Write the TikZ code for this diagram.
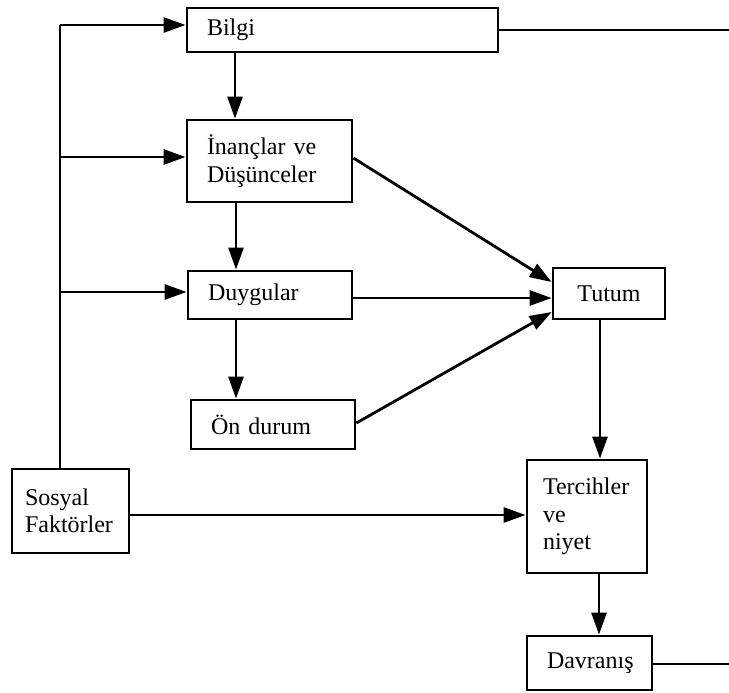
\documentclass[tikz,border=0pt]{standalone}
\usepackage{fontspec}
\setmainfont{Liberation Serif}
\usetikzlibrary{arrows.meta, positioning}

\begin{document}
\begin{tikzpicture}[
    x=1pt, y=-1pt,
    box/.style={draw, line width=2.8pt, inner xsep=20pt, inner ysep=0pt, align=left,
                font=\fontsize{24}{27.5}\selectfont},
    arrow/.style={-{Triangle[length=22pt, width=15pt]}, line width=2.8pt},
    line/.style={line width=2.8pt}
  ]
  \useasboundingbox (0,0) rectangle (729,693);

  \node[box, text width=271pt, minimum height=44pt] (bilgi) at (342.5,30) {Bilgi};
  \node[box, text width=125pt, minimum height=82pt] (inanc) at (269.5,161) {İnançlar ve\\Düşünceler};
  \node[box, text width=124pt, minimum height=48pt] (duygu) at (270,295) {Duygular};
  \node[box, text width=124pt, minimum height=49pt] (ondurum) at (273,424.5) {Ön durum};
  \node[box, align=center, text width=72pt, minimum height=51pt] (tutum) at (609,293.5) {Tutum};
  \node[box, inner xsep=13pt, text width=91pt, minimum height=84pt] (sosyal) at (70.5,511) {Sosyal\\Faktörler};
  \node[box, inner xsep=16pt, text width=88pt, minimum height=113pt] (tercih) at (587,516.5) {Tercihler\\ve\\niyet};
  \node[box, align=center, text width=85pt, minimum height=54pt] (davranis) at (589.5,663) {Davranış};

  \coordinate (trunk) at (60,25);
  \coordinate (outtop) at (729,30);
  \coordinate (outbot) at (729,664);

  % sosyal faktorler branch
  \draw[line] (sosyal.north -| trunk) -- (trunk);
  \draw[arrow] (trunk) -- (bilgi.west |- trunk);
  \draw[arrow] (trunk |- 0,157) -- (inanc.west |- 0,157);
  \draw[arrow] (trunk |- 0,292) -- (duygu.west |- 0,292);
  \draw[arrow] (sosyal.east |- 0,515) -- (tercih.west |- 0,515);

  \draw[arrow] (bilgi.south -| 235,0) -- (inanc.north -| 235,0);
  \draw[arrow] (inanc.south -| 236,0) -- (duygu.north -| 236,0);
  \draw[arrow] (duygu.south -| 236,0) -- (ondurum.north -| 236,0);

  \draw[arrow] (inanc.east |- 0,158) -- (tutum.west |- 0,282);
  \draw[arrow] (duygu.east |- 0,298) -- (tutum.west |- 0,298);
  \draw[arrow] (ondurum.east |- 0,423) -- (tutum.west |- 0,312);

  \draw[arrow] (tutum.south -| 600,0) -- (tercih.north -| 600,0);
  \draw[arrow] (tercih.south -| 599,0) -- (davranis.north -| 599,0);

  \draw[line] (bilgi.east) -- (outtop);
  \draw[line] (davranis.east |- outbot) -- (outbot);
\end{tikzpicture}
\end{document}
